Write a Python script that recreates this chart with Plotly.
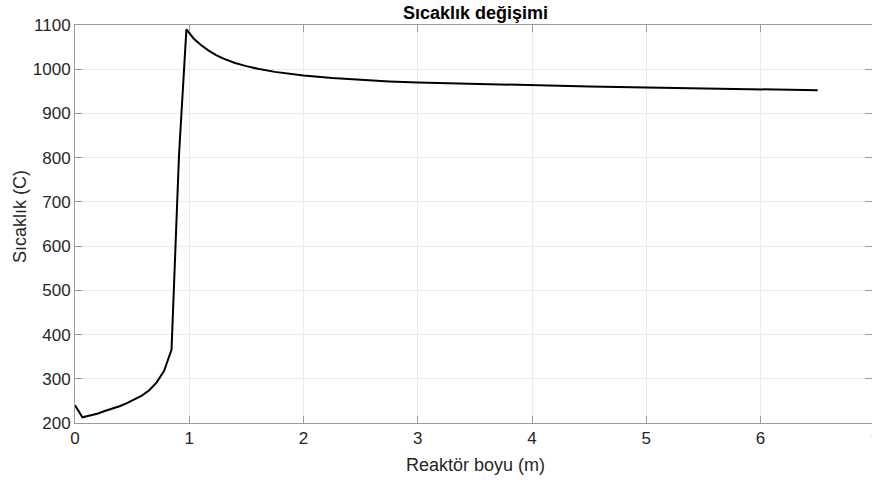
import plotly.graph_objects as go

# Reactor length (m) and temperature (C)
reaktor_boyu = [0.0, 0.065, 0.13, 0.195, 0.26, 0.325, 0.39, 0.455, 0.52, 0.585,
                0.65, 0.715, 0.78, 0.845, 0.91, 0.975, 1.04, 1.105, 1.17, 1.235,
                1.3, 1.4, 1.5, 1.6, 1.75, 1.9, 2.0, 2.25, 2.5, 2.75, 3.0, 3.5,
                4.0, 4.5, 5.0, 5.5, 6.0, 6.5]
sicaklik = [240, 213, 217, 221, 227, 232, 238, 245, 253, 262,
            274, 292, 318, 366, 805, 1090, 1069, 1054, 1042, 1032,
            1024, 1014, 1007, 1001, 994, 989, 986, 980, 975.5, 972.5, 970, 966.5,
            963.5, 961, 958.5, 956.5, 955, 952.5]

x_ticks = [0, 1, 2, 3, 4, 5, 6, 7]
y_ticks = [200, 300, 400, 500, 600, 700, 800, 900, 1000, 1100]

W, H = 872, 481
ML, MR, MT, MB = 75, 0, 25, 58
px_per_unit = 114.26
x_max = (W - ML - MR) / px_per_unit

fig = go.Figure()
fig.add_trace(go.Scatter(x=reaktor_boyu, y=sicaklik, mode="lines",
                         line=dict(color="black", width=2), showlegend=False))

font_fam = "Liberation Sans, Arial, Helvetica, sans-serif"
axis_common = dict(
    showgrid=True, gridcolor="#ebebeb", gridwidth=1,
    showline=True, linecolor="#9a9a9a", linewidth=1, mirror="ticks",
    ticks="inside", ticklen=7, tickcolor="#9a9a9a", tickwidth=1,
    zeroline=False, tickfont=dict(family=font_fam, size=17, color="#262626"),
)

fig.update_xaxes(range=[0, x_max], tickvals=x_ticks, ticktext=[str(v) for v in x_ticks],
                 **axis_common)
fig.update_yaxes(range=[200, 1100], tickvals=y_ticks, ticktext=[str(v) for v in y_ticks],
                 **axis_common)

# tick label "7" cut off at the right edge of the window
fig.add_annotation(x=1, y=0, xref="paper", yref="paper", xanchor="left",
                   yanchor="top", xshift=-3, yshift=-7, text="7", showarrow=False,
                   font=dict(family=font_fam, size=17, color="#262626"))

# axis titles
fig.add_annotation(x=(475 - ML) / (W - ML - MR), y=-(465 - (H - MB)) / (H - MT - MB),
                   xref="paper", yref="paper", xanchor="center", yanchor="middle",
                   text="Reaktör boyu (m)", showarrow=False,
                   font=dict(family=font_fam, size=18, color="#262626"))
fig.add_annotation(x=-(ML - 20) / (W - ML - MR), y=((H - MB) - 217) / (H - MT - MB),
                   xref="paper", yref="paper", xanchor="center", yanchor="middle",
                   text="Sıcaklık (C)", textangle=-90, showarrow=False,
                   font=dict(family=font_fam, size=18, color="#262626"))

fig.update_layout(
    width=W, height=H, autosize=False,
    margin=dict(l=ML, r=MR, t=MT, b=MB, pad=0),
    plot_bgcolor="white", paper_bgcolor="white",
    title=dict(text="<b>Sıcaklık değişimi</b>", x=475.5 / W, xanchor="center",
               y=1 - 13 / H, yanchor="middle",
               font=dict(family=font_fam, size=18, color="black")),
)

fig.write_html("out.html")
